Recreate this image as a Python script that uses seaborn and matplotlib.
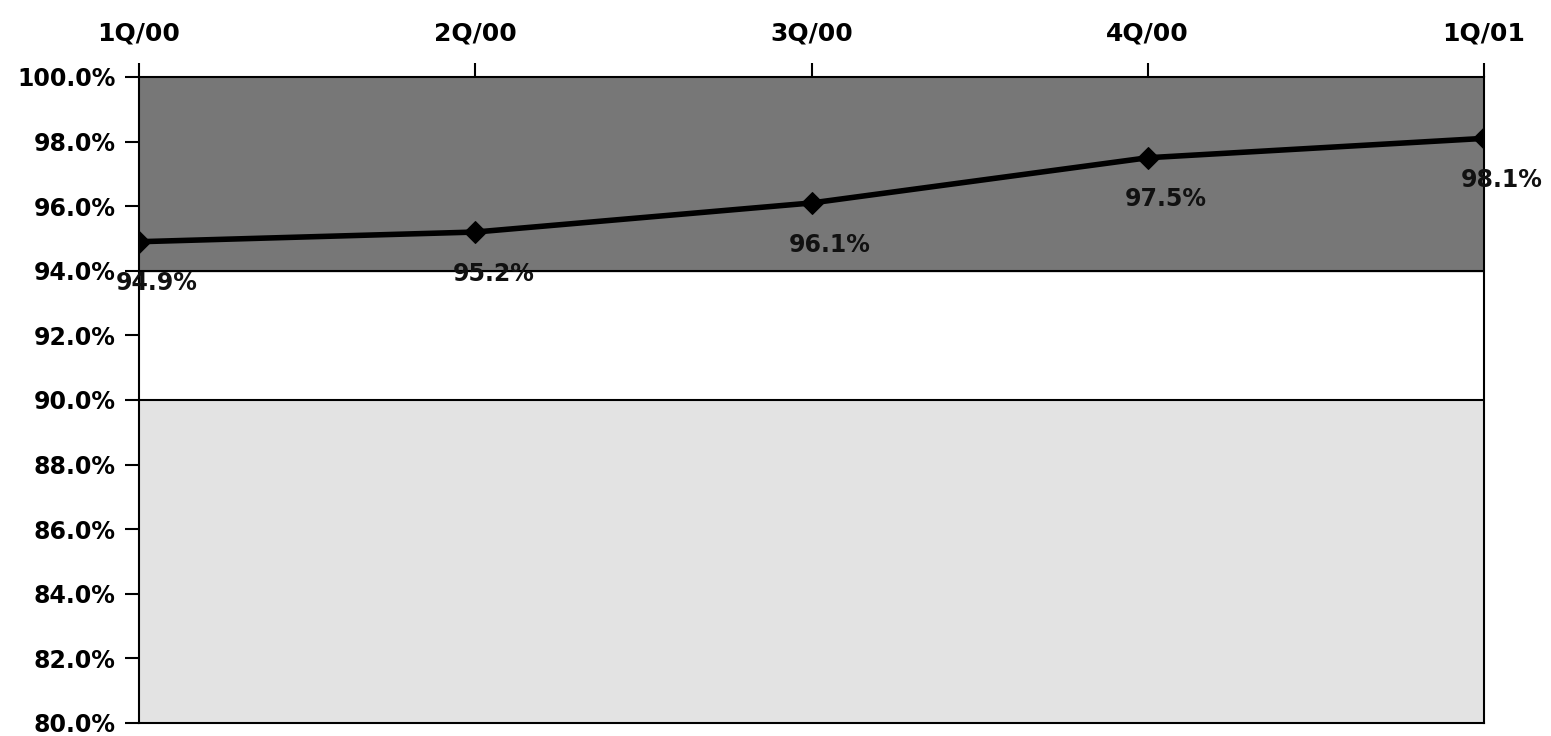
import matplotlib
matplotlib.use('Agg')
import matplotlib.pyplot as plt
import seaborn as sns

quarters = ['1Q/00', '2Q/00', '3Q/00', '4Q/00', '1Q/01']
rates = [94.9, 95.2, 96.1, 97.5, 98.1]
y_ticks = [80, 82, 84, 86, 88, 90, 92, 94, 96, 98, 100]

sns.set_theme(style='white')
plt.rcParams['font.family'] = ['DejaVu Sans']

fig = plt.figure(figsize=(15.51, 7.36), dpi=100)
ax = fig.add_axes([139 / 1551, 13 / 736, (1484 - 139) / 1551, (723 - 77) / 736])

# background bands
ax.axhspan(94, 100, color='#777777', zorder=0)
ax.axhspan(80, 90, color='#e3e3e3', zorder=0)
ax.axhline(94, color='black', lw=1.5, zorder=1)
ax.axhline(90, color='black', lw=1.5, zorder=1)

sns.lineplot(x=quarters, y=rates, ax=ax, color='black', lw=4,
             marker='D', markersize=11, markeredgecolor='black', zorder=3)

for i, v in enumerate(rates):
    ax.annotate(f'{v:.1f}%', (i, v), xytext=(13, -30), textcoords='offset points',
                ha='center', va='center', fontsize=17, fontweight='bold',
                color='#111111', zorder=4)

ax.set_xlim(0, len(quarters) - 1)
ax.set_ylim(80, 100)
ax.set_yticks(y_ticks)
ax.set_yticklabels([f'{t:.1f}%' for t in y_ticks])
ax.xaxis.tick_top()
ax.set_xticks(range(len(quarters)))
ax.set_xticklabels(quarters)
ax.tick_params(axis='both', which='both', direction='out', length=10, width=1.5,
               color='black', labelcolor='black')
ax.tick_params(axis='x', pad=13, top=True, bottom=False, labelsize=18)
ax.tick_params(axis='y', pad=7, left=True, labelsize=17)
for lbl in ax.get_xticklabels() + ax.get_yticklabels():
    lbl.set_fontweight('bold')
for s in ax.spines.values():
    s.set_color('black')
    s.set_linewidth(1.5)
ax.set_xlabel('')
ax.set_ylabel('')
ax.grid(False)

fig.savefig('out.png', dpi=100, facecolor='white')
